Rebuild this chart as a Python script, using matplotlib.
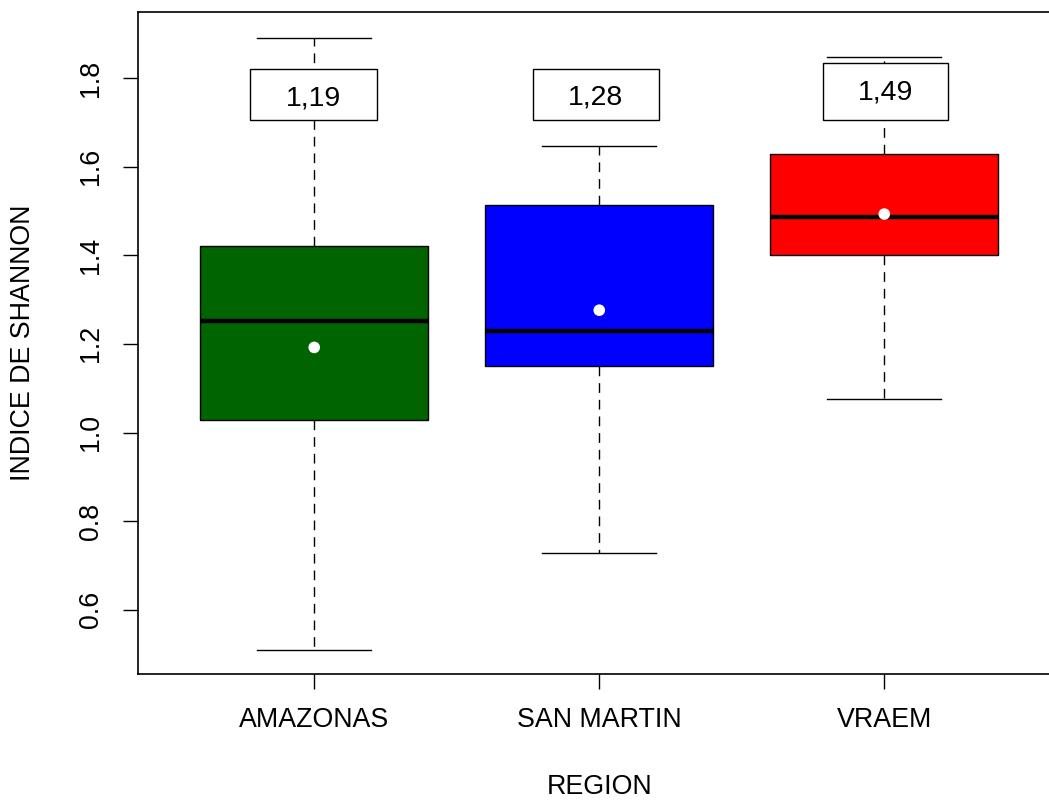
import matplotlib
matplotlib.use("Agg")
import matplotlib.pyplot as plt
from matplotlib.patches import Rectangle

plt.rcParams['font.family'] = ['Liberation Sans', 'DejaVu Sans']

regions = ["AMAZONAS", "SAN MARTIN", "VRAEM"]
whislo = [0.510, 0.727, 1.075]
q1 = [1.029, 1.149, 1.400]
med = [1.251, 1.228, 1.486]
q3 = [1.420, 1.513, 1.628]
whishi = [1.890, 1.646, 1.847]
means = [1.192, 1.276, 1.493]
colors = ["#006400", "#0000FF", "#FF0000"]
labels = ["1,19", "1,28", "1,49"]
yticks = [0.6, 0.8, 1.0, 1.2, 1.4, 1.6, 1.8]

fig = plt.figure(figsize=(10.49, 8.0), dpi=100)
ax = fig.add_axes([137.5/1049, 1-674/800, (1061-137.5)/1049, (674-12)/800])

stats = []
for i, r in enumerate(regions):
    stats.append(dict(label=r, whislo=whislo[i], q1=q1[i], med=med[i],
                      q3=q3[i], whishi=whishi[i], fliers=[]))
pos = list(range(1, len(regions) + 1))
bp = ax.bxp(stats, positions=pos, widths=0.8, capwidths=0.4,
            patch_artist=True, showfliers=False,
            boxprops=dict(edgecolor='black', linewidth=1.0),
            medianprops=dict(color='black', linewidth=3.2, solid_capstyle='butt'),
            whiskerprops=dict(color='black', linewidth=1.0, linestyle=(0, (7, 5))),
            capprops=dict(color='black', linewidth=1.0))
for patch, c in zip(bp['boxes'], colors):
    patch.set_facecolor(c)

ax.scatter(pos, means, s=70, color='white', zorder=5, edgecolors='none')

# label boxes (legend-like)
rects = [(0.775, 1.705, 0.446, 0.115), (1.766, 1.705, 0.445, 0.115), (2.786, 1.705, 0.439, 0.128)]
text_y = [1.754, 1.756, 1.768]
for (x0, y0, w, h), lab, ty, p in zip(rects, labels, text_y, pos):
    ax.add_patch(Rectangle((x0, y0), w, h, facecolor='white', edgecolor='black',
                           linewidth=1.0, zorder=6))
    ax.text(x0 + w / 2, ty, lab, ha='center', va='center', fontsize=20.5, zorder=7)

ax.set_xlim(0.38, 3.62)
ax.set_ylim(0.455, 1.949)
ax.set_yticks(yticks)
ax.set_yticklabels([f"{v:.1f}" for v in yticks], rotation=90, va='center')
ax.set_xticks(pos)
ax.set_xticklabels(regions)
ax.tick_params(axis='both', length=11, width=1.0, labelsize=19.3, pad=13)
ax.set_xlabel("REGION", fontsize=19.3, labelpad=29)
ax.set_ylabel("INDICE DE SHANNON", fontsize=19.3, labelpad=30)
for s in ax.spines.values():
    s.set_linewidth(1.2)

fig.savefig("out.png", dpi=100)
